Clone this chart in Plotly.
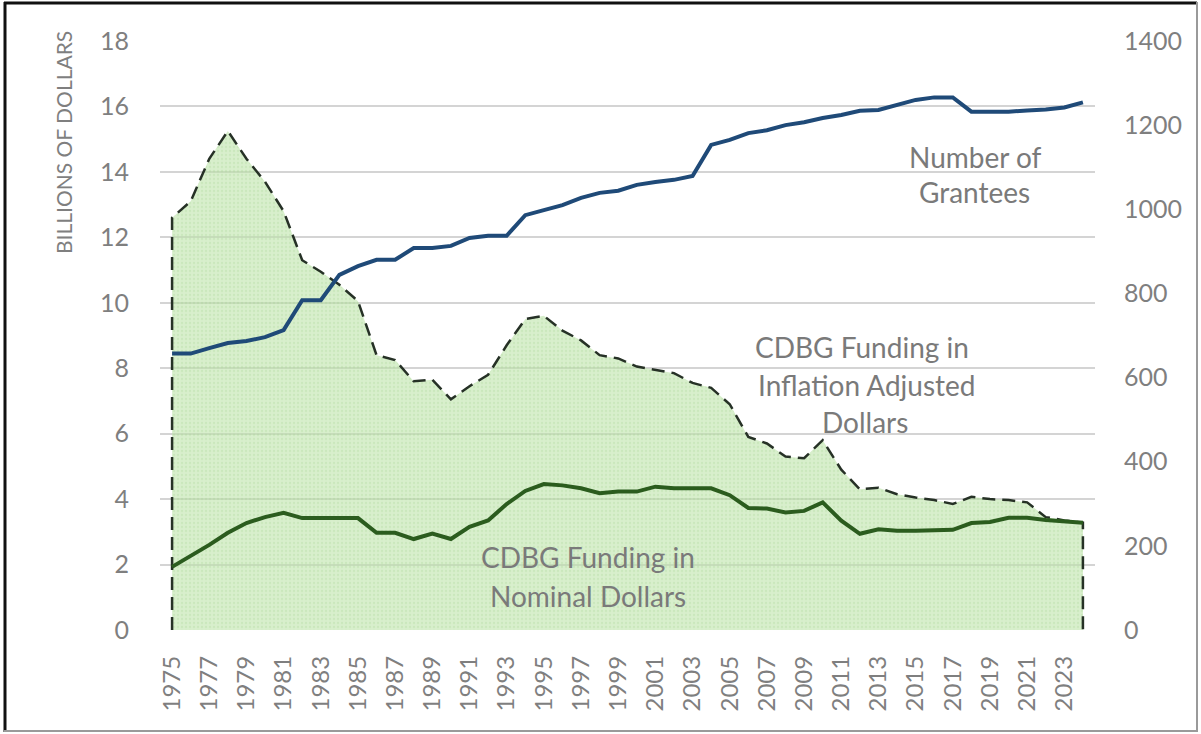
import plotly.graph_objects as go

years = list(range(1975, 2025))

inflation_adjusted = [
    12.6, 13.1, 14.4, 15.25, 14.4, 13.7, 12.8, 11.3, 10.95, 10.55,
    10.05, 8.4, 8.25, 7.6, 7.65, 7.05, 7.45, 7.8, 8.7, 9.5,
    9.6, 9.15, 8.85, 8.4, 8.3, 8.05, 7.95, 7.85, 7.55, 7.4,
    6.9, 5.9, 5.7, 5.3, 5.25, 5.8, 4.9, 4.3, 4.35, 4.15,
    4.05, 3.97, 3.85, 4.07, 4.0, 3.97, 3.9, 3.45, 3.35, 3.28,
]

nominal = [
    1.93, 2.25, 2.6, 2.97, 3.27, 3.45, 3.58, 3.42, 3.42, 3.42,
    3.42, 2.97, 2.97, 2.78, 2.95, 2.78, 3.15, 3.35, 3.85, 4.25,
    4.46, 4.42, 4.33, 4.18, 4.23, 4.23, 4.38, 4.33, 4.33, 4.33,
    4.12, 3.73, 3.71, 3.59, 3.64, 3.9, 3.34, 2.94, 3.08, 3.03,
    3.03, 3.03, 3.06, 3.27, 3.3, 3.43, 3.43, 3.36, 3.33, 3.28,
]

grantees = [
    657, 657, 670, 682, 687, 696, 713, 784, 784, 844,
    865, 880, 880, 908, 908, 913, 932, 937, 937, 986,
    998, 1010, 1027, 1039, 1044, 1058, 1065, 1070, 1079, 1153,
    1165, 1181, 1188, 1200, 1207, 1217, 1224, 1234, 1236, 1248,
    1260, 1266, 1266, 1232, 1232, 1232, 1235, 1237, 1242, 1254,
]

x_ticks = list(range(1975, 2024, 2))
left_ticks = list(range(0, 19, 2))
right_ticks = list(range(0, 1401, 200))

FONT = "Lato"
GRAY = "#7f7f7f"

# layout geometry (pixels)
W, H = 1201, 734
L, R, T, B = 160, 106, 41, 104
PW, PH = W - L - R, H - T - B


def px(x):
    return (x - L) / PW


def py(y):
    return (H - B - y) / PH


fig = go.Figure()

# inflation-adjusted area with dashed outline including vertical edges
area_x = [years[0]] + years + [years[-1]]
area_y = [0] + inflation_adjusted + [0]
fig.add_trace(go.Scatter(
    x=area_x, y=area_y, mode="lines",
    line=dict(color="#263126", width=2.5, dash="13px,7px"),
    fill="tozeroy",
    fillcolor="rgba(185,226,165,0.55)",
    fillpattern=dict(shape=".", bgcolor="rgba(188,228,168,0.58)",
                     fgcolor="rgba(150,200,130,0.45)", size=4, solidity=0.25),
    hoverinfo="skip", showlegend=False,
))

fig.add_trace(go.Scatter(
    x=years, y=nominal, mode="lines",
    line=dict(color="#2b5c1e", width=4),
    showlegend=False,
))

fig.add_trace(go.Scatter(
    x=years, y=grantees, mode="lines", yaxis="y2",
    line=dict(color="#1f4a78", width=4),
    showlegend=False,
))

annotations = []
labels = [
    ("Number of", 975, 157),
    ("Grantees", 974, 192),
    ("CDBG Funding in", 862, 347),
    ("Inflation Adjusted", 866, 385),
    ("Dollars", 865, 422),
    ("CDBG Funding in", 588, 557),
    ("Nominal Dollars", 588, 596),
]
for text, x, y in labels:
    annotations.append(dict(
        text=text, x=px(x), y=py(y), xref="paper", yref="paper",
        showarrow=False, xanchor="center", yanchor="middle",
        font=dict(family=FONT, size=28, color="#7a7a7a"),
    ))

annotations.append(dict(
    text="BILLIONS OF DOLLARS", x=px(63), y=py(143), xref="paper", yref="paper",
    showarrow=False, textangle=-90, xanchor="center", yanchor="middle",
    font=dict(family=FONT, size=21, color=GRAY),
))

shapes = [
    # outer frame
    dict(type="line", xref="paper", yref="paper", x0=px(4), x1=px(1197), y0=py(3), y1=py(3),
         line=dict(color="#111111", width=3)),
    dict(type="line", xref="paper", yref="paper", x0=px(5), x1=px(5), y0=py(2), y1=py(732),
         line=dict(color="#111111", width=3)),
    dict(type="line", xref="paper", yref="paper", x0=px(1197), x1=px(1197), y0=py(2), y1=py(732),
         line=dict(color="#9a9a9a", width=2)),
    dict(type="line", xref="paper", yref="paper", x0=px(4), x1=px(1197), y0=py(731), y1=py(731),
         line=dict(color="#9a9a9a", width=2)),
]

fig.update_layout(
    width=W, height=H,
    margin=dict(l=L, r=R, t=T, b=B),
    paper_bgcolor="white", plot_bgcolor="white",
    font=dict(family=FONT, size=24, color=GRAY),
    xaxis=dict(
        range=[1974.35, 2024.65], tickmode="array", tickvals=x_ticks,
        ticktext=[str(v) for v in x_ticks], tickangle=-90,
        showgrid=False, zeroline=False, showline=False,
        ticks="", ticklabelstandoff=20,
        tickfont=dict(family=FONT, size=24, color=GRAY),
    ),
    yaxis=dict(
        range=[0, 18], tickmode="array", tickvals=left_ticks,
        showgrid=True, gridcolor="#d4d4d4", gridwidth=1.5,
        zeroline=False, showline=False, ticks="", ticklabelstandoff=30,
        tickfont=dict(family=FONT, size=25, color=GRAY),
    ),
    yaxis2=dict(
        range=[0, 1400], tickmode="array", tickvals=right_ticks,
        overlaying="y", side="right", showgrid=False, zeroline=False,
        showline=False, ticks="", ticklabelstandoff=28,
        tickfont=dict(family=FONT, size=25, color=GRAY),
    ),
    annotations=annotations,
    shapes=shapes,
    showlegend=False,
)

fig.write_html("out.html", config={"displayModeBar": False},
               post_script="document.body.style.margin='0px';")
